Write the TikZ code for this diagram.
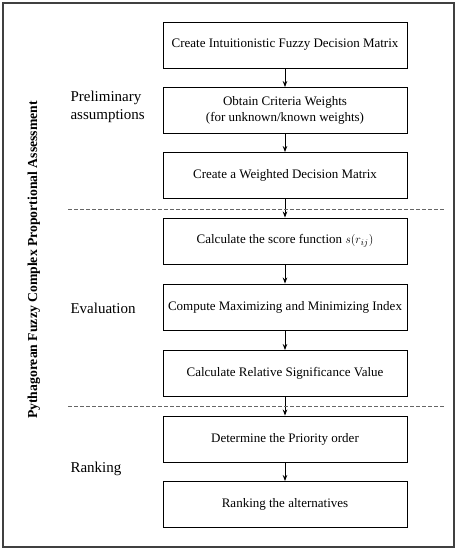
\documentclass[tikz,border=0pt]{standalone}
\usepackage{fontspec}
\setmainfont{Liberation Serif}
\usepackage{tikz}
\usetikzlibrary{arrows.meta}
\tikzset{>={Stealth[length=6pt,width=4.5pt]}}
\tikzset{
  stepbox/.style={draw,line width=0.9pt,minimum width=244pt,minimum height=46pt,
    inner sep=0pt,align=center,font=\fontsize{13}{15.5}\selectfont},
  phase/.style={anchor=west,align=left,font=\fontsize{15}{18}\selectfont},
  sepline/.style={dashed,dash pattern=on 3.5pt off 2.5pt,line width=0.8pt,gray!80!black}
}

\begin{document}
\begin{tikzpicture}[line cap=butt,line join=miter,x=1pt,y=1pt]
			\useasboundingbox (0,0) rectangle (457,-550);
			\draw[line width=1.6pt,color=black!75] (3,-3) rectangle (454,-547);
			% steps
			\node[stepbox] (cim) at (285,-45) {Create Intuitionistic Fuzzy Decision Matrix};
			\node[stepbox] (ocw) at (285,-110.5) {Obtain Criteria Weights\\(for unknown/known weights)};
			\node[stepbox] (cwm) at (285,-175.5) {Create a Weighted Decision Matrix};
			\node[stepbox] (csf) at (285,-241) {Calculate the score function $s(r_{ij})$};
			\node[stepbox] (cmm) at (285,-307) {Compute Maximizing and Minimizing Index};
			\node[stepbox] (crs) at (285,-373.5) {Calculate Relative Significance Value};
			\node[stepbox] (dpo) at (285,-439) {Determine the Priority order};
			\node[stepbox] (rta) at (285,-504.5) {Ranking the alternatives};
			% arrows
			\draw[->,line width=0.8pt] (cim) -- (ocw);
			\draw[->,line width=0.8pt] (ocw) -- (cwm);
			\draw[->,line width=0.8pt] (cwm) -- (csf);
			\draw[->,line width=0.8pt] (csf) -- (cmm);
			\draw[->,line width=0.8pt] (cmm) -- (crs);
			\draw[->,line width=0.8pt] (crs) -- (dpo);
			\draw[->,line width=0.8pt] (dpo) -- (rta);
			% phase separators
			\coordinate (s1l) at (68,-209);
			\coordinate (s1r) at (445,-209);
			\coordinate (s2l) at (68,-406);
			\coordinate (s2r) at (445,-406);
			\draw[sepline] (s1l) -- (s1r);
			\draw[sepline] (s2l) -- (s2r);
			% phase labels
			\node[phase] (pre) at (67,-107) {Preliminary\\assumptions};
			\node[phase] (eva) at (67,-308) {Evaluation};
			\node[phase] (ran) at (67,-469) {Ranking};
			\node[rotate=90,font=\bfseries\fontsize{13.7}{16}\selectfont] (title) at (34,-260)
			  {Pythagorean Fuzzy Complex Proportional Assessment};
\end{tikzpicture}
\end{document}
